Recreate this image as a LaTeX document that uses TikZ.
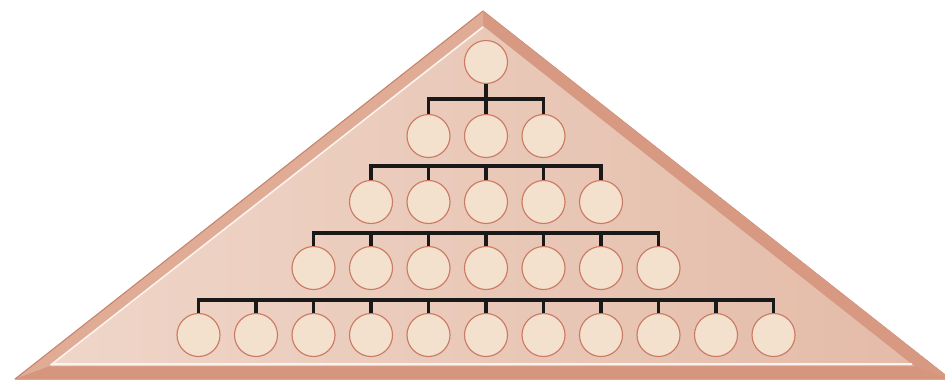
\documentclass[tikz,border=0pt]{standalone}
\usepackage{tikz}
\usetikzlibrary{positioning}
\definecolor{rimlight}{HTML}{E0AC95}
\definecolor{rimdark}{HTML}{D5967D}
\definecolor{rimedge}{HTML}{C7826A}
\definecolor{faceleft}{HTML}{EFD6C9}
\definecolor{faceright}{HTML}{E4BBA8}
\definecolor{memberfill}{HTML}{F3E1CE}
\definecolor{memberedge}{HTML}{CB7A63}
\tikzset{
  member/.style={circle,draw=memberedge,fill=memberfill,line width=0.65pt,
    minimum size=0.86cm,inner sep=0pt},
  branch/.style={draw=black!90,line width=1.9pt},
  rimface/.style={fill=rimlight,draw=rimedge,line width=0.6pt,line join=round}
}

\begin{document}
\begin{tikzpicture}[x=0.02cm,y=-0.02cm]
  \useasboundingbox (0,0) rectangle (945,379);
  % 外框：三角形的斜边与底边
  \begin{scope}
    \clip (0,0) rectangle (945,379);
    \path[rimface] (483,11) -- (945,375) -- (951,379) -- (15,379) -- cycle;
    \fill[rimdark!85!rimlight] (483,11) -- (951,379) -- (914,366) -- (483,26) -- cycle;
    \fill[rimdark] (15,379) -- (951,379) -- (914,366) -- (50,366) -- cycle;
    \shade[left color=faceleft,right color=faceright]
      (483,26) -- (914,366) -- (50,366) -- cycle;
    \draw[white!70!faceleft,line width=0.9pt] (483,27) -- (52,364) -- (912,364);
  \end{scope}

  % 第一层
  \node[member] (ra) at (486,62) {};

  % 第二层
  \node[member] (rb1) at (428.5,136) {};
  \node[member] (rb2) at (486,136) {};
  \node[member] (rb3) at (543.5,136) {};

  % 第三层
  \node[member] (rc1) at (371,202) {};
  \node[member] (rc2) at (428.5,202) {};
  \node[member] (rc3) at (486,202) {};
  \node[member] (rc4) at (543.5,202) {};
  \node[member] (rc5) at (601,202) {};

  % 第四层
  \node[member] (rd1) at (313.5,268) {};
  \node[member] (rd2) at (371,268) {};
  \node[member] (rd3) at (428.5,268) {};
  \node[member] (rd4) at (486,268) {};
  \node[member] (rd5) at (543.5,268) {};
  \node[member] (rd6) at (601,268) {};
  \node[member] (rd7) at (658.5,268) {};

  % 第五层
  \node[member] (re1) at (198.5,335) {};
  \node[member] (re2) at (256,335) {};
  \node[member] (re3) at (313.5,335) {};
  \node[member] (re4) at (371,335) {};
  \node[member] (re5) at (428.5,335) {};
  \node[member] (re6) at (486,335) {};
  \node[member] (re7) at (543.5,335) {};
  \node[member] (re8) at (601,335) {};
  \node[member] (re9) at (658.5,335) {};
  \node[member] (re10) at (716,335) {};
  \node[member] (re11) at (773.5,335) {};

  % 各层之间的连线（总线）
  \coordinate (busb) at (486,99);
  \coordinate (busc) at (486,166);
  \coordinate (busd) at (486,233);
  \coordinate (buse) at (486,300);

  \draw[branch] (ra.south) -- (busb);
  \draw[branch] (rb1.north) |- (busb);
  \draw[branch] (rb2.north) |- (busb);
  \draw[branch] (rb3.north) |- (busb);

  \draw[branch] (rc1.north) |- (busc);
  \draw[branch] (rc2.north) |- (busc);
  \draw[branch] (rc3.north) |- (busc);
  \draw[branch] (rc4.north) |- (busc);
  \draw[branch] (rc5.north) |- (busc);

  \draw[branch] (rd1.north) |- (busd);
  \draw[branch] (rd2.north) |- (busd);
  \draw[branch] (rd3.north) |- (busd);
  \draw[branch] (rd4.north) |- (busd);
  \draw[branch] (rd5.north) |- (busd);
  \draw[branch] (rd6.north) |- (busd);
  \draw[branch] (rd7.north) |- (busd);

  \draw[branch] (re1.north) |- (buse);
  \draw[branch] (re2.north) |- (buse);
  \draw[branch] (re3.north) |- (buse);
  \draw[branch] (re4.north) |- (buse);
  \draw[branch] (re5.north) |- (buse);
  \draw[branch] (re6.north) |- (buse);
  \draw[branch] (re7.north) |- (buse);
  \draw[branch] (re8.north) |- (buse);
  \draw[branch] (re9.north) |- (buse);
  \draw[branch] (re10.north) |- (buse);
  \draw[branch] (re11.north) |- (buse);
\end{tikzpicture}
\end{document}
